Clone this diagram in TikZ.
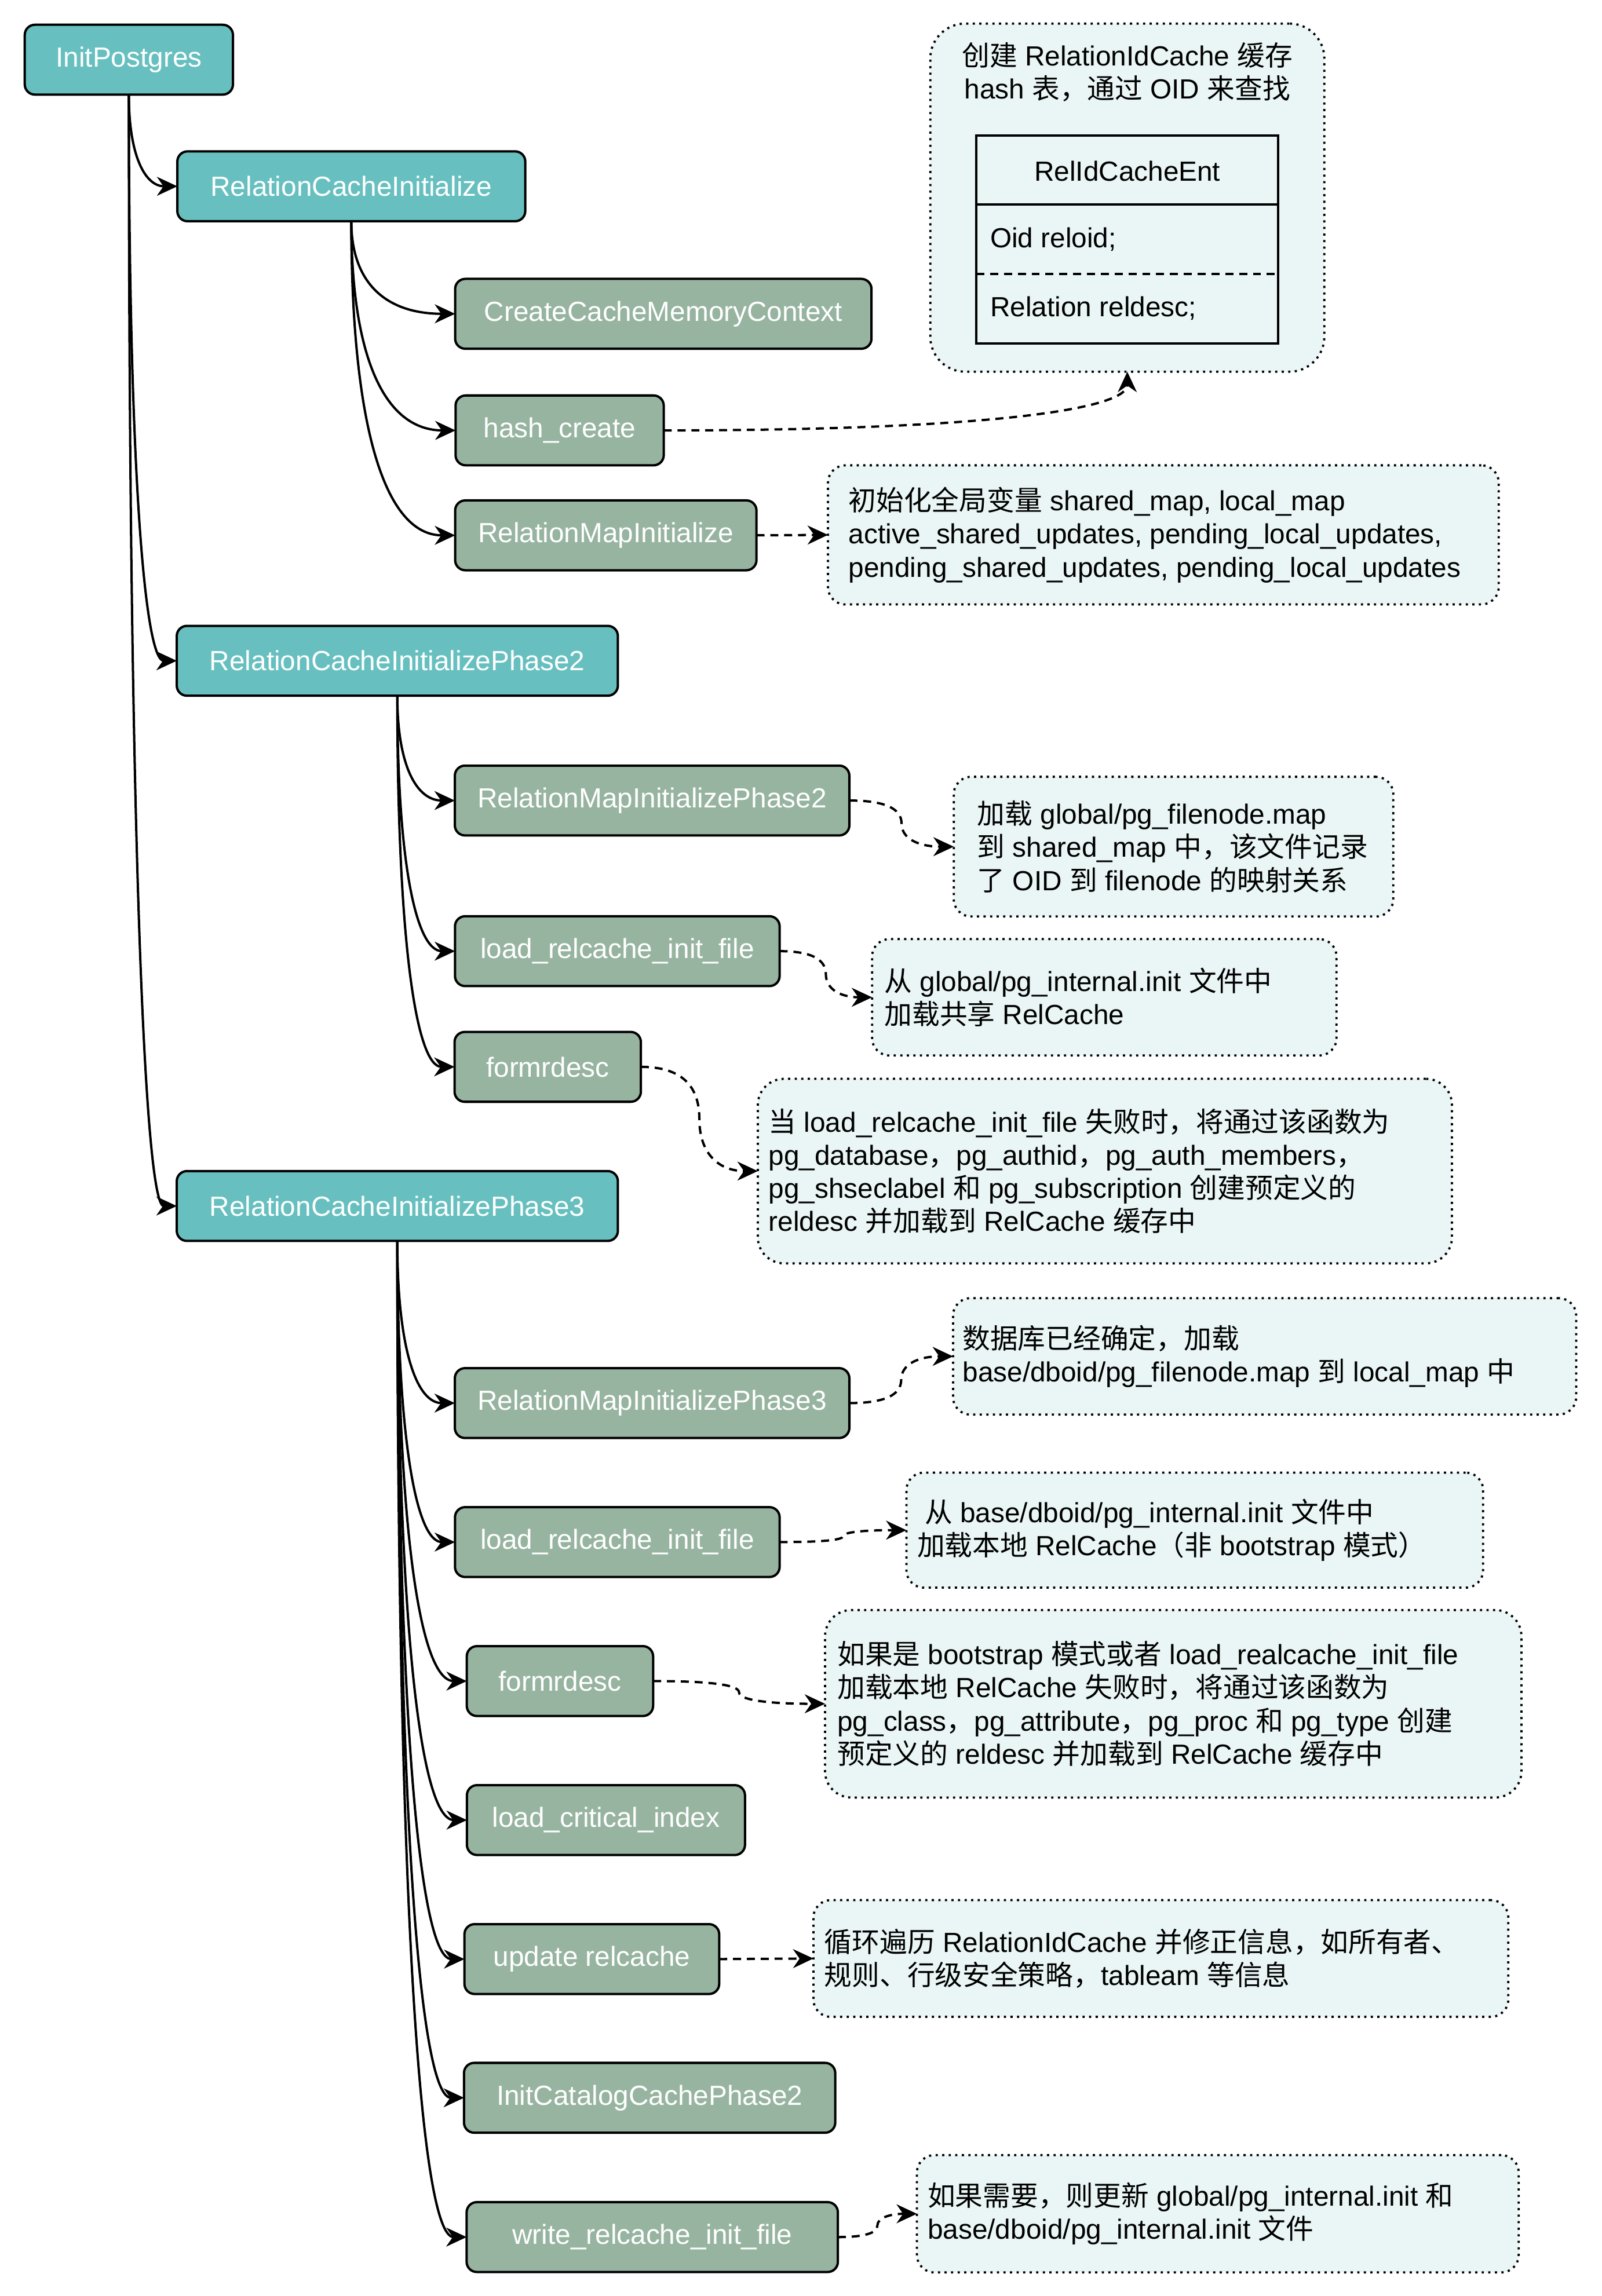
\documentclass[tikz,border=0pt]{standalone}
\usepackage{fontspec}
\setmainfont{Liberation Sans}
\newfontfamily\cjk{Noto Sans CJK SC}
\newcommand\zh[1]{{\cjk #1}}
\usetikzlibrary{arrows.meta,calc}
\definecolor{teal1}{RGB}{103,192,191}
\definecolor{sage1}{RGB}{151,180,160}
\definecolor{notebg}{RGB}{234,245,245}
\tikzset{
 fnt/.style={font=\fontsize{19}{22.8}\selectfont},
 fbox/.style={draw=black, line width=1.6pt, rounded corners=7pt, minimum height=48pt, inner sep=0pt, outer sep=0pt, text=white, fnt},
 tbox/.style={fbox, fill=teal1},
 gbox/.style={fbox, fill=sage1},
 notebox/.style={draw=black, line width=1.5pt, dash pattern=on 1.5pt off 3pt, fill=notebg, inner sep=0pt, outer sep=0pt, rounded corners=12pt},
 ntext/.style={fnt, align=left, inner sep=0pt, anchor=west, text=black},
 tipend/.style={-{Stealth[length=14pt,width=13pt,inset=4.5pt]}},
 qcurve/.style={to path={let \p1=(\tikztostart), \p2=(\tikztotarget) in .. controls ($(\p1)!2/3!(\x1,\y2)$) and ($(\p2)!2/3!(\x1,\y2)$) .. (\p2)}},
 hcurve/.style={to path={let \p1=(\tikztostart), \p2=(\tikztotarget) in .. controls ($(\p1)!2/3!(\x2,\y1)$) and ($(\p2)!2/3!(\x2,\y1)$) .. (\p2)}},
 scurve/.style={to path={let \p1=(\tikztostart), \p2=(\tikztotarget), \n1={0.5*(\x1+\x2)}, \n2={0.5*(\y1+\y2)} in .. controls ($(\p1)!2/3!(\n1,\y1)$) and ($(\n1,\n2)!2/3!(\n1,\y1)$) .. (\n1,\n2) .. controls ($(\n1,\n2)!2/3!(\n1,\y2)$) and ($(\p2)!2/3!(\n1,\y2)$) .. (\p2)}},
 solidarr/.style={tipend, line width=1.6pt, qcurve},
 dasharr/.style={tipend, line width=1.6pt, dash pattern=on 5.5pt off 4pt},
}
\begin{document}
\begin{tikzpicture}[x=1pt,y=-1pt]
\path[fill=white, use as bounding box] (0,0) rectangle (1100,1577.5);

% function boxes
\node[tbox, minimum width=143pt] (ip) at (88.5,41) {InitPostgres};
\node[tbox, minimum width=239pt] (rci) at (241.3,128) {RelationCacheInitialize};
\node[gbox, minimum width=286pt] (ccmc) at (455.6,215.6) {CreateCacheMemoryContext};
\node[gbox, minimum width=143pt] (hc) at (384.4,295.7) {hash\_create};
\node[gbox, minimum width=207pt] (rmi) at (416.1,367.8) {RelationMapInitialize};
\node[tbox, minimum width=303pt] (p2) at (272.9,454) {RelationCacheInitializePhase2};
\node[gbox, minimum width=271pt] (rmp2) at (447.9,550) {RelationMapInitializePhase2};
\node[gbox, minimum width=223pt] (lr1) at (424,653.5) {load\_relcache\_init\_file};
\node[gbox, minimum width=128pt] (fd1) at (376.2,733) {formrdesc};
\node[tbox, minimum width=303pt] (p3) at (272.9,828.6) {RelationCacheInitializePhase3};
\node[gbox, minimum width=271pt] (rmp3) at (447.9,964) {RelationMapInitializePhase3};
\node[gbox, minimum width=223pt] (lr2) at (424,1059.5) {load\_relcache\_init\_file};
\node[gbox, minimum width=128pt] (fd2) at (384.6,1155) {formrdesc};
\node[gbox, minimum width=191pt] (lci) at (416.2,1250.5) {load\_critical\_index};
\node[gbox, minimum width=175pt] (urc) at (406.5,1346) {update relcache};
\node[gbox, minimum width=255pt] (icc) at (446.2,1441.3) {InitCatalogCachePhase2};
\node[gbox, minimum width=255pt] (wri) at (448,1537) {write\_relcache\_init\_file};

% notes
\node[notebox, rounded corners=24pt, minimum width=270.6pt, minimum height=239.2pt] (n1) at (774.3,135.8) {};
\node[fnt, align=center, inner sep=0pt] (t1) at (774.3,49.5) {\zh{创建} RelationIdCache \zh{缓存}\\hash \zh{表，通过} OID \zh{来查找}};
\node[draw, line width=1.6pt, minimum width=207.4pt, minimum height=143.1pt, inner sep=0pt, outer sep=0pt] (tbl) at (774.3,164.55) {};
\node[fnt, inner sep=0pt] (thd) at (774.3,117.7) {RelIdCacheEnt};
\coordinate (hl) at (670.6,140.5);
\coordinate (dl) at (670.6,188.4);
\draw[line width=1.6pt] (tbl.west |- hl) -- (tbl.east |- hl);
\draw[line width=1.6pt, dash pattern=on 5.5pt off 4pt] (tbl.west |- dl) -- (tbl.east |- dl);
\node[fnt, anchor=west, inner sep=0pt] (ra) at (680,164.5) {Oid reloid;};
\node[fnt, anchor=west, inner sep=0pt] (rb) at (680,212) {Relation reldesc;};

\node[notebox, minimum width=460.7pt, minimum height=95.6pt] (n2) at (799.05,367.5) {};
\node[ntext] (t2) at ([xshift=14pt]n2.west) {\zh{初始化全局变量} shared\_map, local\_map\\active\_shared\_updates, pending\_local\_updates,\\pending\_shared\_updates, pending\_local\_updates};

\node[notebox, minimum width=301.9pt, minimum height=96pt] (n3) at (806.05,581.7) {};
\node[ntext] (t3) at ([xshift=16pt]n3.west) {\zh{加载} global/pg\_filenode.map\\\zh{到} shared\_map \zh{中，该文件记录}\\\zh{了} OID \zh{到} filenode \zh{的映射关系}};

\node[notebox, minimum width=319pt, minimum height=80pt] (n4) at (758.5,685.2) {};
\node[ntext] (t4) at ([xshift=8.3pt]n4.west) {\zh{从} global/pg\_internal.init \zh{文件中}\\\zh{加载共享} RelCache};

\node[notebox, rounded corners=18pt, minimum width=476.8pt, minimum height=126.8pt] (n5) at (758.9,804.6) {};
\node[ntext] (t5) at ([xshift=7.3pt]n5.west) {\zh{当} load\_relcache\_init\_file \zh{失败时，将通过该函数为}\\pg\_database\zh{，}pg\_authid\zh{，}pg\_auth\_members\zh{，}\\pg\_shseclabel \zh{和} pg\_subscription \zh{创建预定义的}\\reldesc \zh{并加载到} RelCache \zh{缓存中}};

\node[notebox, minimum width=428pt, minimum height=80pt] (n6) at (868.6,931.9) {};
\node[ntext] (t6) at ([xshift=6.4pt]n6.west) {\zh{数据库已经确定，加载}\\base/dboid/pg\_filenode.map \zh{到} local\_map \zh{中}};

\node[notebox, minimum width=396.1pt, minimum height=79pt] (n7) at (820.65,1051.3) {};
\node[ntext] (t7) at ([xshift=7.2pt]n7.west) {\hspace*{5.3pt}\zh{从} base/dboid/pg\_internal.init \zh{文件中}\\\zh{加载本地} RelCache\zh{（非} bootstrap \zh{模式）}};

\node[notebox, rounded corners=18pt, minimum width=478.3pt, minimum height=128.8pt] (n8) at (805.85,1170.6) {};
\node[ntext] (t8) at ([xshift=8.3pt]n8.west) {\zh{如果是} bootstrap \zh{模式或者} load\_realcache\_init\_file\\\zh{加载本地} RelCache \zh{失败时，将通过该函数为}\\pg\_class\zh{，}pg\_attribute\zh{，}pg\_proc \zh{和} pg\_type \zh{创建}\\\zh{预定义的} reldesc \zh{并加载到} RelCache \zh{缓存中}};

\node[notebox, minimum width=477.3pt, minimum height=80.2pt] (n9) at (797.35,1345.6) {};
\node[ntext] (t9) at ([xshift=7.3pt]n9.west) {\zh{循环遍历} RelationIdCache \zh{并修正信息，如所有者、}\\\zh{规则、行级安全策略，}tableam \zh{等信息}};

\node[notebox, minimum width=413.3pt, minimum height=80.6pt] (n10) at (836.45,1521) {};
\node[ntext] (t10) at ([xshift=7.2pt]n10.west) {\zh{如果需要，则更新} global/pg\_internal.init \zh{和}\\base/dboid/pg\_internal.init \zh{文件}};

% solid call edges
\draw[solidarr] (ip.south) to (rci.west);
\draw[solidarr] (ip.south) to (p2.west);
\draw[solidarr] (ip.south) to (p3.west);
\draw[solidarr] (rci.south) to (ccmc.west);
\draw[solidarr] (rci.south) to (hc.west);
\draw[solidarr] (rci.south) to (rmi.west);
\draw[solidarr] (p2.south) to (rmp2.west);
\draw[solidarr] (p2.south) to (lr1.west);
\draw[solidarr] (p2.south) to (fd1.west);
\draw[solidarr] (p3.south) to (rmp3.west);
\draw[solidarr] (p3.south) to (lr2.west);
\draw[solidarr] (p3.south) to (fd2.west);
\draw[solidarr] (p3.south) to (lci.west);
\draw[solidarr] (p3.south) to (urc.west);
\draw[solidarr] (p3.south) to (icc.west);
\draw[solidarr] (p3.south) to (wri.west);

% dashed note edges
\draw[dasharr, hcurve] (hc.east) to (n1.south);
\draw[dasharr] (rmi.east) -- (n2.west);
\draw[dasharr, scurve] (rmp2.east) to (n3.west);
\draw[dasharr, scurve] (lr1.east) to (n4.west);
\draw[dasharr, scurve] (fd1.east) to (n5.west);
\draw[dasharr, scurve] (rmp3.east) to (n6.west);
\draw[dasharr, scurve] (lr2.east) to (n7.west);
\draw[dasharr, scurve] (fd2.east) to (n8.west);
\draw[dasharr] (urc.east) -- (n9.west);
\draw[dasharr, scurve] (wri.east) to (n10.west);
\end{tikzpicture}
\end{document}
